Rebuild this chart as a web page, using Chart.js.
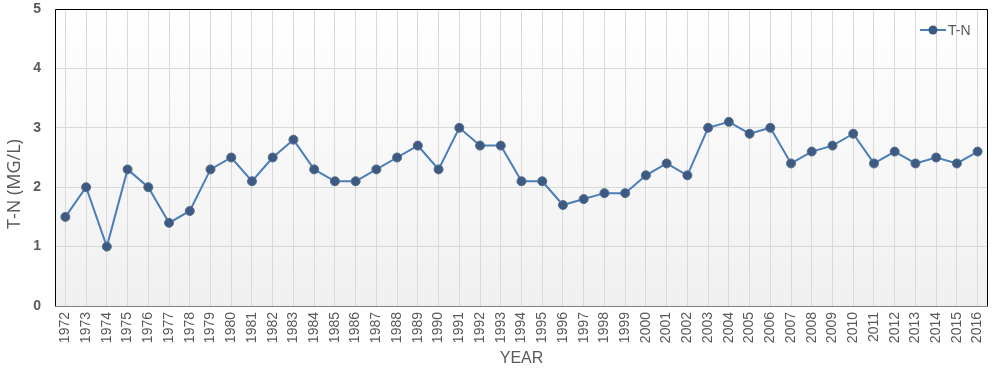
<!DOCTYPE html>
<html>
<head>
<meta charset="utf-8">
<script src="https://cdn.jsdelivr.net/npm/chart.js@4.4.0/dist/chart.umd.min.js"></script>
<style>
  html, body { margin: 0; padding: 0; background: #fff; }
  #wrap { width: 998px; height: 371px; }
</style>
</head>
<body>
<div id="wrap"><canvas id="tn-chart" width="998" height="371"></canvas></div>
<script>
      // 연도별 T-N 농도
      const years = [
        "1972", "1973", "1974", "1975", "1976", "1977", "1978", "1979", "1980",
        "1981", "1982", "1983", "1984", "1985", "1986", "1987", "1988", "1989",
        "1990", "1991", "1992", "1993", "1994", "1995", "1996", "1997", "1998",
        "1999", "2000", "2001", "2002", "2003", "2004", "2005", "2006", "2007",
        "2008", "2009", "2010", "2011", "2012", "2013", "2014", "2015", "2016",
      ];
      const tnValues = [
        1.5, 2.0, 1.0, 2.3, 2.0, 1.4, 1.6, 2.3, 2.5,
        2.1, 2.5, 2.8, 2.3, 2.1, 2.1, 2.3, 2.5, 2.7,
        2.3, 3.0, 2.7, 2.7, 2.1, 2.1, 1.7, 1.8, 1.9,
        1.9, 2.2, 2.4, 2.2, 3.0, 3.1, 2.9, 3.0, 2.4,
        2.6, 2.7, 2.9, 2.4, 2.6, 2.4, 2.5, 2.4, 2.6,
      ];
      const yTicks = [0, 1, 2, 3, 4, 5];
      const yTitle = "T-N (MG/L)";

      const lineColor = "#4a7ebb";
      const pointColor = "#3c5a82";

      // 배경 그라데이션 + 테두리 + y축 제목 + 범례
      const plotFrame = {
        id: "plotFrame",
        beforeDraw(chart) {
          const { ctx, chartArea: a } = chart;
          const g = ctx.createLinearGradient(0, a.top, 0, a.bottom);
          g.addColorStop(0, "#ffffff");
          g.addColorStop(1, "#f0f0f0");
          ctx.save();
          ctx.fillStyle = g;
          ctx.fillRect(a.left, a.top, a.right - a.left, a.bottom - a.top);
          ctx.restore();
        },
        afterDraw(chart) {
          const { ctx, chartArea: a } = chart;
          ctx.save();
          ctx.strokeStyle = "#000";
          ctx.lineWidth = 1;
          ctx.beginPath();
          ctx.moveTo(a.left + 0.5, a.bottom);
          ctx.lineTo(a.left + 0.5, a.top + 0.5);
          ctx.lineTo(a.right - 0.5, a.top + 0.5);
          ctx.lineTo(a.right - 0.5, a.bottom);
          ctx.stroke();
          ctx.strokeStyle = "#808080";
          ctx.beginPath();
          ctx.moveTo(a.left, a.bottom + 0.5);
          ctx.lineTo(a.right, a.bottom + 0.5);
          ctx.stroke();

          // y축 제목 (엑셀 원본처럼 약간 아래쪽)
          ctx.save();
          ctx.translate(15, 184);
          ctx.rotate(-Math.PI / 2);
          ctx.fillStyle = "#595959";
          ctx.font = "18px 'Open Sans', sans-serif";
          ctx.textAlign = "center";
          ctx.textBaseline = "middle";
          ctx.fillText(yTitle, 0, 0);
          ctx.restore();

          // 범례
          const lx = 920, ly = 30;
          ctx.strokeStyle = lineColor;
          ctx.lineWidth = 2;
          ctx.beginPath();
          ctx.moveTo(lx, ly);
          ctx.lineTo(lx + 26, ly);
          ctx.stroke();
          ctx.fillStyle = pointColor;
          ctx.beginPath();
          ctx.arc(lx + 13, ly, 4.5, 0, Math.PI * 2);
          ctx.fill();
          ctx.fillStyle = "#595959";
          ctx.font = "14px 'Liberation Sans', Arial, sans-serif";
          ctx.textBaseline = "middle";
          ctx.fillText(chart.data.datasets[0].label, lx + 28, ly + 1);
          ctx.restore();
        },
      };

      const ctx = document.getElementById("tn-chart").getContext("2d");
      const tnChart = new Chart(ctx, {
        type: "line",
        data: {
          labels: years,
          datasets: [
            {
              label: "T-N",
              data: tnValues,
              borderColor: lineColor,
              borderWidth: 2,
              pointBackgroundColor: pointColor,
              pointBorderColor: "#5a6f8c",
              pointBorderWidth: 1,
              pointRadius: 4.5,
              tension: 0,
              fill: false,
            },
          ],
        },
        options: {
          responsive: false,
          animation: false,
          layout: { padding: { top: 9, right: 10, left: 0, bottom: 0 } },
          plugins: {
            legend: { display: false },
            tooltip: { enabled: false },
          },
          scales: {
            x: {
              offset: true,
              grid: { offset: false, color: "#d9d9d9", drawTicks: false },
              border: { display: false },
              ticks: {
                maxRotation: 90,
                minRotation: 90,
                autoSkip: false,
                padding: 6,
                color: "#595959",
                font: { family: "'Liberation Sans', Arial, sans-serif", size: 14 },
              },
              title: {
                display: true,
                text: "YEAR",
                color: "#595959",
                padding: { top: 0, bottom: 3 },
                font: { family: "'Liberation Sans', Arial, sans-serif", size: 16 },
              },
              afterFit(scale) {
                scale.height = 65;
                scale.paddingLeft = 0;
                scale.paddingRight = 0;
              },
            },
            y: {
              min: yTicks[0],
              max: yTicks[yTicks.length - 1],
              afterBuildTicks(scale) { scale.ticks = yTicks.map((v) => ({ value: v })); },
              grid: { color: "#d9d9d9", drawTicks: false },
              border: { display: false },
              ticks: {
                padding: 14,
                color: "#595959",
                font: { family: "'Liberation Sans', Arial, sans-serif", size: 14, weight: "bold" },
              },
              title: { display: false },
              afterFit(scale) {
                scale.width = 55;
                scale.paddingTop = 0;
                scale.paddingBottom = 0;
              },
            },
          },
        },
        plugins: [plotFrame],
      });
</script>
</body>
</html>
